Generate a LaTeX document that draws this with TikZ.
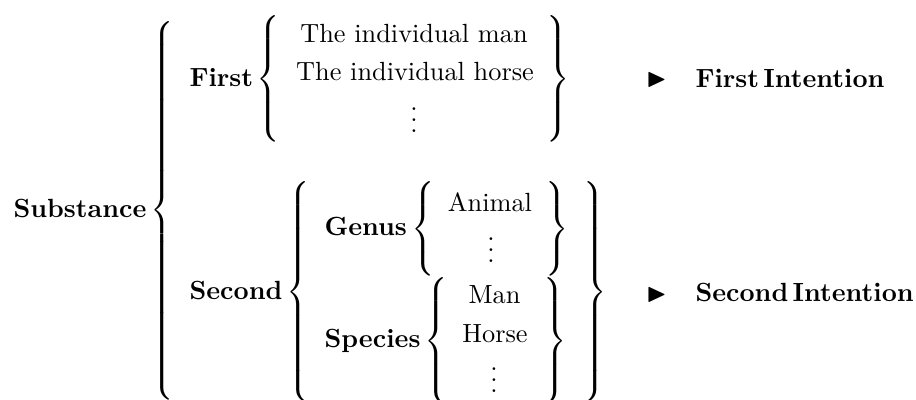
\documentclass[tikz,border=0pt]{standalone}
\usepackage{amssymb}
\usepackage{amsmath}
\usetikzlibrary{positioning}
\tikzset{
  term/.style  = {inner sep=0pt, anchor=base west, font=\bfseries},
  entry/.style = {inner sep=0pt, anchor=base},
  curly/.style = {inner sep=0pt, anchor=center},
}
\nulldelimiterspace=0pt
\delimiterfactor=1000
\delimitershortfall=0pt
\newcommand{\openbr}[1]{$\left\{\vcenter{\hrule height #1 width 0pt}\right.$}
\newcommand{\closebr}[1]{$\left.\vcenter{\hrule height #1 width 0pt}\right\}$}

\begin{document}
\begin{tikzpicture}[x=0.38023pt, y=-0.38023pt]
      \useasboundingbox (0,0) rectangle (916,399);
      % labels
      \node[term] (substance) at (13,217) {Substance};
      \node[term] (first) at (189,86) {First};
      \node[term] (second) at (189,299) {Second};
      \node[term] (genus) at (324,235) {Genus};
      \node[term] (species) at (324,347) {Species};

      % braces
      \node[curly] (subopen) at (162.5,210.4) {\openbr{143pt}};
      \node[curly] (firstopen) at (268.5,79) {\openbr{47pt}};
      \node[curly] (firstclose) at (558.5,79) {\closebr{47pt}};
      \node[curly] (secondopen) at (298.5,292) {\openbr{83pt}};
      \node[curly] (secondclose) at (595,292) {\closebr{83pt}};
      \node[curly] (genusopen) at (423,229) {\openbr{35pt}};
      \node[curly] (genusclose) at (557.5,229) {\closebr{35pt}};
      \node[curly] (speciesopen) at (436,341) {\openbr{47pt}};
      \node[curly] (speciesclose) at (555.5,341) {\closebr{47pt}};

      % members
      \node[entry] (indman) at (414,42) {The individual man};
      \node[entry] (indhorse) at (415,80) {The individual horse};
      \node[entry] (firstdots) at (414,132) {$\vdots$};
      \node[entry] (animal) at (490,211) {Animal};
      \node[entry] (genusdots) at (491,262) {$\vdots$};
      \node[entry] (man) at (494.5,303) {Man};
      \node[entry] (horse) at (495,342) {Horse};
      \node[entry] (speciesdots) at (494,392) {$\vdots$};

      % intentions
      \node[curly] (firsttri) at (656.5,80) {$\blacktriangleright$};
      \node[term] (firstint) at (695,87) {$\mathbf{First\,Intention}$};
      \node[curly] (secondtri) at (656.5,295) {$\blacktriangleright$};
      \node[term] (secondint) at (695,301) {$\mathbf{Second\,Intention}$};
\end{tikzpicture}
\end{document}
